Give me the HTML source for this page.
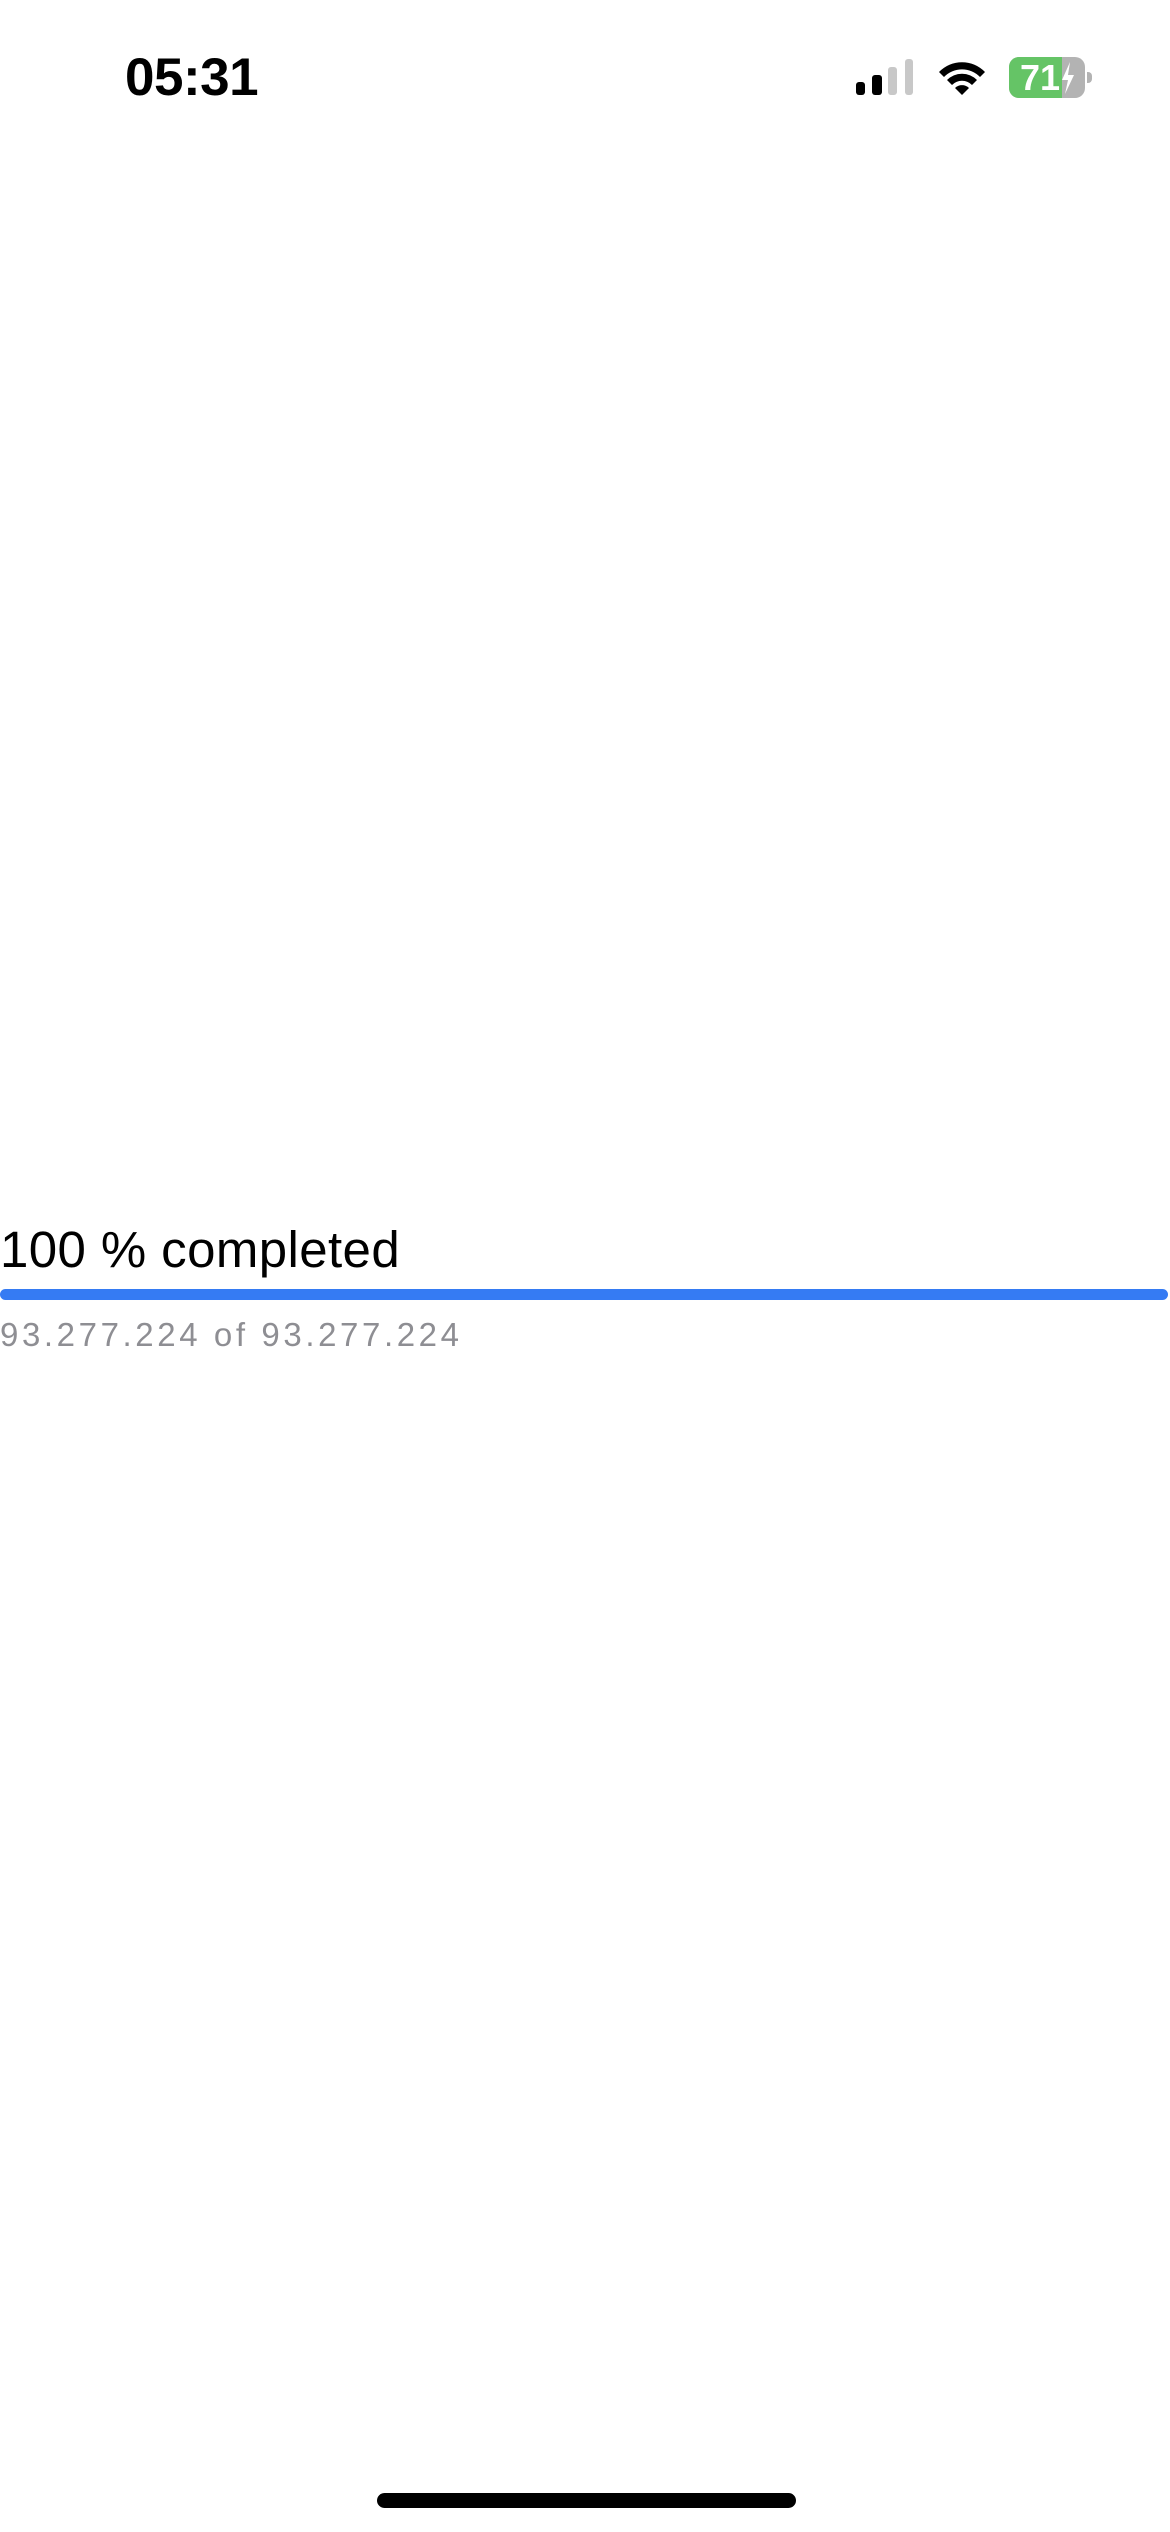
<!DOCTYPE html>
<html><head><meta charset="utf-8"><style>
html,body{margin:0;padding:0;background:#fff;}
body{width:1170px;height:2532px;position:relative;overflow:hidden;font-family:"Liberation Sans",sans-serif;}
.a{position:absolute;}
</style></head><body>
<div class="a" style="left:125px;top:46px;font-size:53px;font-weight:bold;line-height:64px;color:#000;letter-spacing:-0.5px">05:31</div>
<div class="a" style="left:856px;top:82px;width:9px;height:13px;background:#000;border-radius:3px"></div>
<div class="a" style="left:872px;top:75px;width:10px;height:20px;background:#000;border-radius:3px"></div>
<div class="a" style="left:888px;top:67px;width:9px;height:28px;background:#c8c8c8;border-radius:3px"></div>
<div class="a" style="left:905px;top:59px;width:8px;height:36px;background:#c8c8c8;border-radius:3px"></div>
<svg class="a" style="left:937px;top:58px" width="50" height="38" viewBox="0 0 50 38">
<path d="M2 14 A32 32 0 0 1 48 14 L43 19 A25 25 0 0 0 7 19 Z" fill="#000"/>
<path d="M10 22 A21 21 0 0 1 40 22 L35 27 A14 14 0 0 0 15 27 Z" fill="#000"/>
<path d="M18 30 A10 10 0 0 1 32 30 L25 37 Z" fill="#000"/>
</svg>
<div class="a" style="left:1009px;top:57px;width:76px;height:41px;border-radius:10px;overflow:hidden;background:#b3b3b3">
<div style="width:53px;height:41px;background:#65c466"></div>
<div class="a" style="left:11px;top:1px;font-size:36px;font-weight:bold;color:#fff;line-height:40px">71</div>
<svg class="a" style="left:52px;top:5px" width="14" height="32" viewBox="0 0 14 32"><path d="M9 0 L1 18 L7 18 L4 32 L13 13 L7 13 Z" fill="#fff"/></svg>
</div>
<div class="a" style="left:1087px;top:72px;width:5px;height:11px;background:#b3b3b3;border-radius:0 4px 4px 0"></div>
<div class="a" style="left:0;top:1220px;font-size:51px;line-height:60px;color:#000;letter-spacing:0.4px">100 % completed</div>
<div class="a" style="left:0;top:1289px;width:1168px;height:11px;background:#357bf3;border-radius:6px"></div>
<div class="a" style="left:0;top:1315px;font-size:33px;line-height:40px;color:#8e8e93;letter-spacing:3.6px">93.277.224 of 93.277.224</div>
<div class="a" style="left:377px;top:2493px;width:419px;height:15px;background:#000;border-radius:8px"></div>
</body></html>
